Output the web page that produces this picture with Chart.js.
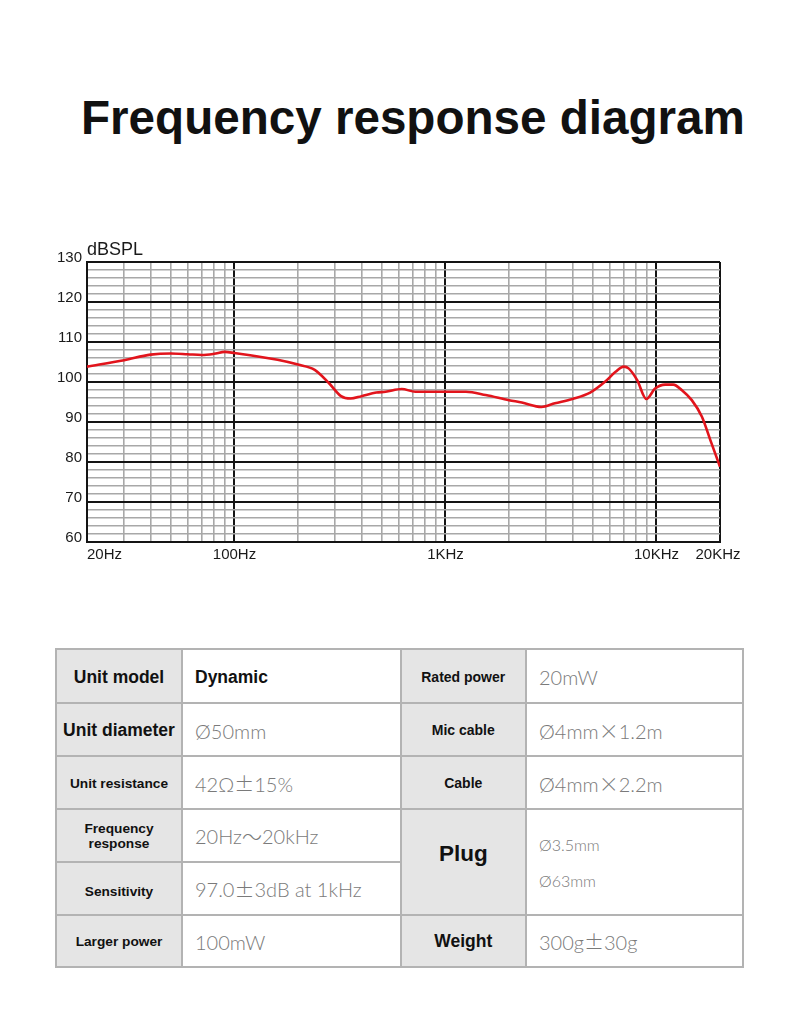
<!DOCTYPE html>
<html>
<head>
<meta charset="utf-8">
<title>Frequency response diagram</title>
<script src="https://cdn.jsdelivr.net/npm/chart.js@4.4.0/dist/chart.umd.min.js"></script>
<style>
  html, body { margin: 0; padding: 0; background: #fff; }
  body { width: 800px; height: 1036px; position: relative; overflow: hidden; font-family: "Liberation Sans", Arial, sans-serif; }
  #title { position: absolute; left: 81px; top: 94px; margin: 0; font-size: 47.6px; line-height: 48px; font-weight: bold; color: #111; white-space: nowrap; }
  #chartBox { position: absolute; left: 0; top: 230px; width: 800px; height: 340px; }
  #specs { position: absolute; left: 55px; top: 648px; width: 689px; height: 320px; box-sizing: border-box; padding: 2px;
    background: #b3b3b3; display: grid; gap: 2px;
    grid-template-columns: 124px 216.5px 123.5px 215px;
    grid-template-rows: 52px 51px 51px 50.5px 51px 50.5px; }
  #specs div { display: flex; align-items: center; box-sizing: border-box; }
  .th { background: #e5e5e5; justify-content: center; text-align: center; font-weight: bold; color: #111; font-size: 13.7px; line-height: 15.7px; padding-top: 3px; }
  .th.big { font-size: 17.5px; }
  .td { background: #fff; padding-left: 12px; padding-top: 2px; color: #7a7a7a; font-family: Lato, "Open Sans", sans-serif; font-weight: 300; font-size: 20px; white-space: nowrap; }
  .td.bold { font-family: "Liberation Sans", Arial, sans-serif; font-weight: bold; color: #111; font-size: 17.5px; }
  .wide { font-family: "Noto Sans CJK SC", sans-serif; font-weight: 300; }
</style>
</head>
<body>
<h1 id="title">Frequency response diagram</h1>
<div id="chartBox"><canvas id="myChart"></canvas></div>

<div id="specs">
  <div class="th big" style="grid-area:1/1">Unit model</div>
  <div class="td bold" style="grid-area:1/2">Dynamic</div>
  <div class="th" style="grid-area:1/3;font-size:14px">Rated power</div>
  <div class="td" style="grid-area:1/4">20mW</div>

  <div class="th big" style="grid-area:2/1">Unit diameter</div>
  <div class="td" style="grid-area:2/2">Ø50mm</div>
  <div class="th" style="grid-area:2/3;font-size:14px">Mic cable</div>
  <div class="td" style="grid-area:2/4">Ø4mm<span class="wide">×</span>1.2m</div>

  <div class="th" style="grid-area:3/1">Unit resistance</div>
  <div class="td" style="grid-area:3/2">42Ω<span class="wide">±</span>15%</div>
  <div class="th" style="grid-area:3/3;font-size:14px">Cable</div>
  <div class="td" style="grid-area:3/4">Ø4mm<span class="wide">×</span>2.2m</div>

  <div class="th" style="grid-area:4/1;padding-top:2px">Frequency<br>response</div>
  <div class="td" style="grid-area:4/2">20Hz<span class="wide">～</span>20kHz</div>
  <div class="th" style="grid-area:4/3/6/4;font-size:22.5px;padding-bottom:18px">Plug</div>
  <div class="td" style="grid-area:4/4/6/5;font-size:16px;line-height:36px">Ø3.5mm<br>Ø63mm</div>

  <div class="th" style="grid-area:5/1;padding-top:7px">Sensitivity</div>
  <div class="td" style="grid-area:5/2">97.0<span class="wide">±</span>3dB at 1kHz</div>

  <div class="th" style="grid-area:6/1">Larger power</div>
  <div class="td" style="grid-area:6/2">100mW</div>
  <div class="th big" style="grid-area:6/3">Weight</div>
  <div class="td" style="grid-area:6/4">300g<span class="wide">±</span>30g</div>
</div>

<script>
// curve (Hz, dBSPL)
const freqs = [20, 30, 40, 50, 60, 70, 80, 90, 100, 160, 200, 240, 280, 320, 355, 400, 470, 520, 620, 720,
  1000, 1250, 1550, 2000, 2300, 2850, 3300, 4000, 4850, 5700, 6400, 7000, 7400, 8100, 8950, 9850,
  11000, 12000, 13200, 14700, 16400, 18000, 20000];
const spl = [103.8, 105.4, 106.8, 107.1, 106.9, 106.7, 107.0, 107.5, 107.2, 105.5, 104.3, 103.0, 99.7, 96.4, 95.8, 96.4, 97.3, 97.5, 98.2, 97.5,
  97.5, 97.5, 96.7, 95.4, 94.8, 93.7, 94.6, 95.7, 97.3, 100.0, 102.5, 103.8, 103.3, 100.4, 95.7, 98.3,
  99.3, 99.3, 97.9, 95.4, 91.3, 85.4, 78.7];

// grid of the log paper
const gridFreqs = [20, 30, 40, 50, 60, 70, 80, 90, 100, 200, 300, 400, 500, 600, 700, 800, 900, 1000,
  2000, 3000, 4000, 5000, 6000, 7000, 8000, 9000, 10000, 20000];
const majorFreqs = [20, 100, 1000, 10000, 20000];

const xLabelFreqs = [20, 100, 1000, 10000, 20000];
const xLabels = ["20Hz", "100Hz", "1KHz", "10KHz", "20KHz"];
const yMin = 60;
const yMax = 130;
const yUnit = "dBSPL";

const BLACK = "#141414";
const GRAY = "#a8a8a8";

// texts under and above the plot
const axisText = {
  id: "axisText",
  afterDraw(chart) {
    const { ctx, chartArea } = chart;
    const x = chart.scales.x;
    ctx.save();
    ctx.fillStyle = "#1a1a1a";
    ctx.font = '15px "Liberation Sans", Arial, sans-serif';
    ctx.textBaseline = "middle";
    xLabelFreqs.forEach((f, i) => {
      ctx.textAlign = i === 0 ? "left" : "center";
      ctx.fillText(xLabels[i], x.getPixelForValue(f) - (i === xLabels.length - 1 ? 2 : 0), chartArea.bottom + 13);
    });
    ctx.font = '18px "Liberation Sans", Arial, sans-serif';
    ctx.textAlign = "left";
    ctx.textBaseline = "alphabetic";
    ctx.fillText(yUnit, chartArea.left, chartArea.top - 7.5);
    ctx.restore();
  },
};

var ctx = document.getElementById("myChart").getContext("2d");
var myChart = new Chart(ctx, {
  type: "line",
  data: {
    datasets: [
      {
        label: yUnit,
        data: freqs.map((f, i) => ({ x: f, y: spl[i] })),
        borderColor: "#e2141c",
        borderWidth: 2.6,
        pointRadius: 0,
        cubicInterpolationMode: "monotone",
        fill: false,
      },
    ],
  },
  options: {
    responsive: true,
    maintainAspectRatio: false,
    animation: false,
    layout: { padding: { top: 32, right: 80, left: 0, bottom: 0 } },
    plugins: { legend: { display: false }, tooltip: { enabled: false }, title: { display: false } },
    scales: {
      x: {
        type: "logarithmic",
        min: 20,
        max: 20000,
        afterBuildTicks: (axis) => { axis.ticks = gridFreqs.map((v) => ({ value: v })); },
        afterFit: (axis) => { axis.height = 28.5; },
        ticks: { display: false, autoSkip: false },
        border: { display: true, color: BLACK, width: 2 },
        grid: {
          drawTicks: false,
          color: (c) => (c.tick && majorFreqs.includes(c.tick.value) ? BLACK : GRAY),
          lineWidth: (c) => (c.tick && majorFreqs.includes(c.tick.value) ? 2 : 1.6),
        },
      },
      y: {
        min: yMin,
        max: yMax,
        afterFit: (axis) => { axis.width = 87; },
        ticks: {
          stepSize: 2,
          autoSkip: false,
          padding: 5,
          labelOffset: -4,
          color: "#1a1a1a",
          font: { family: '"Liberation Sans", Arial, sans-serif', size: 15 },
          callback: (v) => (v % 10 === 0 ? v : ""),
        },
        border: { display: true, color: BLACK, width: 2 },
        grid: {
          drawTicks: false,
          color: (c) => (c.tick && c.tick.value % 10 === 0 ? BLACK : GRAY),
          lineWidth: (c) => (c.tick && c.tick.value % 10 === 0 ? 2 : 1.6),
        },
      },
    },
  },
  plugins: [axisText],
});
</script>
</body>
</html>
